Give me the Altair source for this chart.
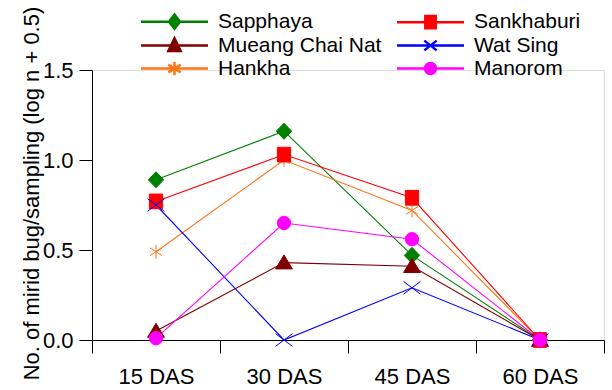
import altair as alt
import pandas as pd

# ---- data ----
# order is column-major for the two-column legend
sites = ["Sapphaya", "Mueang Chai Nat", "Hankha", "Sankhaburi", "Wat Sing", "Manorom"]
colors = ["#008000", "#800000", "#ff7518", "#ff0000", "#0000ff", "#ff00ff"]
stages = ["15 DAS", "30 DAS", "45 DAS", "60 DAS"]

sapphaya = [0.89, 1.16, 0.47, 0.0]
mueang_chai_nat = [0.05, 0.43, 0.41, 0.0]
hankha = [0.49, 1.0, 0.72, 0.0]
sankhaburi = [0.77, 1.03, 0.79, 0.0]
wat_sing = [0.75, 0.0, 0.29, 0.0]
manorom = [0.01, 0.65, 0.56, 0.0]

series = [sapphaya, mueang_chai_nat, hankha, sankhaburi, wat_sing, manorom]

y_ticks = [0.0, 0.5, 1.0, 1.5]
y_title = "No. of mirid bug/sampling (log n + 0.5)"

# marker paths for the plotted points
data_shapes = [
    "M0,-1.15L1.1,0L0,1.15L-1.1,0Z",                      # diamond
    "M0,-1.1L1.2,0.9L-1.2,0.9Z",                          # triangle
    "M0,-1V1M-0.85,-0.55L0.85,0.55M-0.85,0.55L0.85,-0.55",  # asterisk
    "M-0.95,-1.05H0.95V1.05H-0.95Z",                      # square
    "M-1.2,-0.9L1.2,0.9M-1.2,0.9L1.2,-0.9",               # x
    "M0.95,0A0.95,0.95,0,1,1,-0.95,0A0.95,0.95,0,1,1,0.95,0Z",  # circle
]
# legend symbols: a line through the marker
L = "M-5.15,0H5.15"
legend_shapes = [
    L + "M0,-1.1L0.85,0L0,1.1L-0.85,0Z",
    L + "M0,-1.1L0.95,0.85L-0.95,0.85Z",
    L + "M0,-1.05V1.05M-0.95,-0.6L0.95,0.6M-0.95,0.6L0.95,-0.6",
    L + "M-0.8,-0.95H0.8V0.95H-0.8Z",
    L + "M-0.95,-0.75L0.95,0.75M-0.95,0.75L0.95,-0.75",
    L + "M0.85,0A0.85,0.85,0,1,1,-0.85,0A0.85,0.85,0,1,1,0.85,0Z",
]

rows = []
for s, vals in zip(sites, series):
    for st, v in zip(stages, vals):
        rows.append({"site": s, "stage": st, "value": v})
df = pd.DataFrame(rows)

FONT = "Arial, Liberation Sans, sans-serif"

x_enc = alt.X(
    "stage:N",
    sort=stages,
    scale=alt.Scale(domain=stages, paddingInner=0, paddingOuter=0),
    axis=alt.Axis(
        title=None, tickBand="extent", labelAngle=0, labelFontSize=22,
        labelFont=FONT, labelColor="black", tickSize=13, labelPadding=13,
        domainColor="black", tickColor="black", grid=False,
    ),
)
y_enc = alt.Y(
    "value:Q",
    scale=alt.Scale(domain=[0, 1.5], nice=False),
    axis=alt.Axis(
        values=y_ticks, format=".1f", title=y_title, grid=False,
        labelFontSize=22, labelFont=FONT, labelColor="black",
        tickSize=13, labelPadding=6, domainColor="black", tickColor="black",
        titleFont=FONT, titleFontSize=22, titleFontWeight="normal",
        titleColor="black", titleAngle=270, titleX=-61, titleY=123,
        titleAlign="center", titleBaseline="middle",
    ),
)

color_scale = alt.Scale(domain=sites, range=colors)

lines = alt.Chart(df).mark_line(strokeWidth=1.1).encode(
    x=x_enc, y=y_enc,
    color=alt.Color("site:N", scale=color_scale, legend=None),
)

points = alt.Chart(df).mark_point(filled=True, size=196, strokeWidth=1, opacity=1).encode(
    x=x_enc, y=y_enc,
    shape=alt.Shape("site:N", scale=alt.Scale(domain=sites, range=data_shapes), legend=None),
    fill=alt.Fill("site:N", scale=color_scale, legend=None),
    stroke=alt.Stroke("site:N", scale=color_scale, legend=None),
)

def make_legend():
    return alt.Legend(
        title=None, orient="none", legendX=72, legendY=-59, columns=2,
        symbolSize=169, symbolStrokeWidth=2.5, symbolOpacity=1,
        labelFontSize=21, labelFont=FONT, labelColor="black", labelLimit=400,
        labelOffset=33, columnPadding=10, rowPadding=-1, padding=0,
    )

legend_layer = alt.Chart(df).transform_filter("datum.value < -10").mark_point(
    filled=True, size=169, strokeWidth=2.5
).encode(
    x=x_enc, y=y_enc,
    shape=alt.Shape("site:N", scale=alt.Scale(domain=sites, range=legend_shapes), legend=make_legend()),
    fill=alt.Fill("site:N", scale=alt.Scale(domain=sites, range=colors), legend=make_legend()),
    stroke=alt.Stroke("site:N", scale=alt.Scale(domain=sites, range=colors), legend=make_legend()),
)

chart = alt.layer(lines, points, legend_layer).resolve_scale(
    shape="independent", fill="independent", stroke="independent"
).properties(
    width=512, height=270,
    autosize=alt.AutoSizeParams(type="none"),
    padding={"left": 92, "top": 70, "right": 8, "bottom": 50},
).configure_view(stroke=None).configure(background="white")

chart.save("out.html", embed_options={"renderer": "svg", "actions": False})
